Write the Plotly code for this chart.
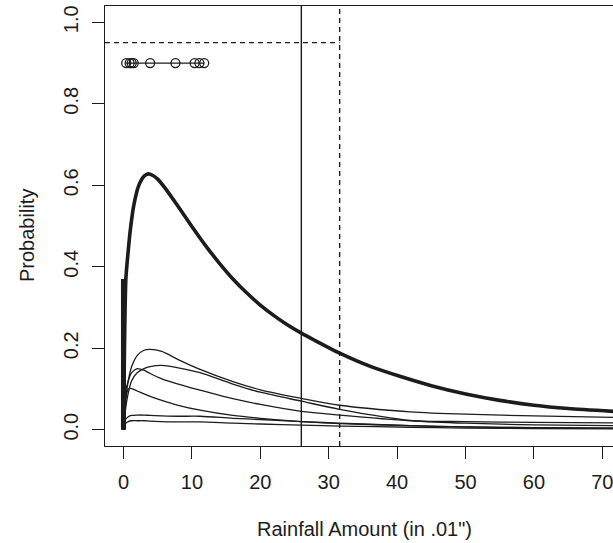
import plotly.graph_objects as go

# Rainfall amount grid (in .01") at which the overall density is read
x_main = [0.35, 0.7, 1.0, 1.5, 2.2, 3.0, 3.6, 4.3, 5.0, 6.0, 8.0, 10.0, 12.0,
          14.0, 16.0, 18.0, 20.0, 22.0, 24.0, 26.0, 28.0, 31.6, 36.0, 40.4,
          45.0, 50.2, 55.0, 60.0, 65.0, 71.6]
y_main = [0.37, 0.44, 0.49, 0.55, 0.598, 0.622, 0.628, 0.624, 0.615, 0.595,
          0.548, 0.499, 0.452, 0.409, 0.370, 0.336, 0.306, 0.280, 0.257,
          0.237, 0.219, 0.188, 0.156, 0.131, 0.108, 0.087, 0.072, 0.060,
          0.052, 0.045]

# point mass at zero
spike_x = [0, 0]
spike_y = [0, 0.37]

# component densities
x_comp = [0, 0.3, 0.7, 1.2, 2.0, 3.0, 3.9, 5.6, 8.0, 11.2, 16.0, 20.0, 26.0,
          31.6, 41.9, 50.0, 60.0, 71.6]
comp_a = [0, 0.07, 0.12, 0.155, 0.182, 0.195, 0.197, 0.192, 0.172, 0.148,
          0.118, 0.098, 0.077, 0.060, 0.044, 0.038, 0.034, 0.030]
comp_b = [0, 0.05, 0.09, 0.12, 0.14, 0.150, 0.155, 0.158, 0.152, 0.140,
          0.112, 0.092, 0.070, 0.050, 0.023, 0.020, 0.018, 0.017]
comp_c = [0, 0.09, 0.12, 0.14, 0.150, 0.146, 0.138, 0.125, 0.112, 0.097,
          0.076, 0.062, 0.045, 0.036, 0.022, 0.016, 0.012, 0.010]
comp_d = [0, 0.07, 0.10, 0.101, 0.095, 0.088, 0.082, 0.072, 0.060, 0.048,
          0.035, 0.028, 0.020, 0.015, 0.010, 0.007, 0.005, 0.004]
comp_e = [0, 0.025, 0.032, 0.035, 0.036, 0.036, 0.035, 0.034, 0.033, 0.033,
          0.028, 0.025, 0.020, 0.016, 0.010, 0.007, 0.005, 0.004]
comp_f = [0, 0.015, 0.020, 0.022, 0.022, 0.022, 0.021, 0.020, 0.019, 0.019,
          0.016, 0.014, 0.011, 0.009, 0.006, 0.004, 0.003, 0.002]
components = [comp_a, comp_b, comp_c, comp_d, comp_e, comp_f]

# observed amounts shown along the top
obs_x = [0.4, 0.9, 1.2, 1.5, 3.9, 7.6, 10.4, 11.1, 11.8]
obs_level = 0.9

# reference levels
quantile_level = 0.95
solid_cut = 26.0
dashed_cut = 31.6

x_ticks = [0, 10, 20, 30, 40, 50, 60, 70]
y_ticks = [0.0, 0.2, 0.4, 0.6, 0.8, 1.0]

x_range = [-2.7, 71.56]
y_range = [-0.04, 1.04]

INK = "#1c1c1c"
FONT = "Liberation Sans, Arial, sans-serif"

fig = go.Figure()

for comp in components:
    fig.add_trace(go.Scatter(x=x_comp, y=comp, mode="lines",
                             line=dict(color=INK, width=1.3, shape="spline",
                                       smoothing=0.8),
                             hoverinfo="skip", showlegend=False))

fig.add_trace(go.Scatter(x=spike_x, y=spike_y, mode="lines",
                         line=dict(color=INK, width=5),
                         showlegend=False))
fig.add_trace(go.Scatter(x=[0.0] + x_main, y=[0.0] + y_main, mode="lines",
                         line=dict(color=INK, width=3.6, shape="spline",
                                   smoothing=0.6),
                         showlegend=False))

fig.add_trace(go.Scatter(x=obs_x, y=[obs_level] * len(obs_x),
                         mode="lines+markers",
                         line=dict(color=INK, width=1.2),
                         marker=dict(symbol="circle-open", size=9,
                                     color=INK, line=dict(width=1.3)),
                         showlegend=False))

# vertical cut-offs and the 0.95 level
fig.add_trace(go.Scatter(x=[solid_cut, solid_cut], y=y_range, mode="lines",
                         line=dict(color=INK, width=1.4), showlegend=False))
fig.add_trace(go.Scatter(x=[dashed_cut, dashed_cut], y=y_range, mode="lines",
                         line=dict(color=INK, width=1.4, dash="5px,4px"),
                         showlegend=False))
fig.add_trace(go.Scatter(x=[x_range[0], dashed_cut],
                         y=[quantile_level, quantile_level], mode="lines",
                         line=dict(color=INK, width=1.4, dash="5px,4px"),
                         showlegend=False))

plot_w = 613 - 105
plot_h = 543 - 6 - 97

fig.update_layout(
    width=613, height=543,
    margin=dict(l=105, r=0, t=6, b=97),
    paper_bgcolor="white", plot_bgcolor="white",
    font=dict(family=FONT, size=20, color=INK),
    showlegend=False,
    xaxis=dict(range=x_range, tickvals=x_ticks, ticks="outside", ticklen=12,
               tickwidth=1.3, tickcolor=INK, showgrid=False, zeroline=False,
               showline=True, linecolor=INK, linewidth=1.4, mirror=True,
               ticklabelstandoff=6, ticklabeloverflow="allow"),
    yaxis=dict(range=y_range, tickvals=y_ticks,
               ticktext=[f"{v:.1f}" for v in y_ticks], tickangle=-90,
               ticks="outside", ticklen=12, tickwidth=1.3, tickcolor=INK,
               showgrid=False, zeroline=False, showline=True, linecolor=INK,
               linewidth=1.4, mirror=False, ticklabelstandoff=6),
    annotations=[
        dict(text='Rainfall Amount (in .01")', xref="paper", yref="paper",
             x=(364 - 105) / plot_w, y=(446 - 529) / plot_h,
             xanchor="center", yanchor="middle", showarrow=False),
        dict(text="Probability", textangle=-90, xref="paper", yref="paper",
             x=(27 - 105) / plot_w, y=(446 - 236) / plot_h,
             xanchor="center", yanchor="middle", showarrow=False),
    ],
)

fig.write_html("out.html")
